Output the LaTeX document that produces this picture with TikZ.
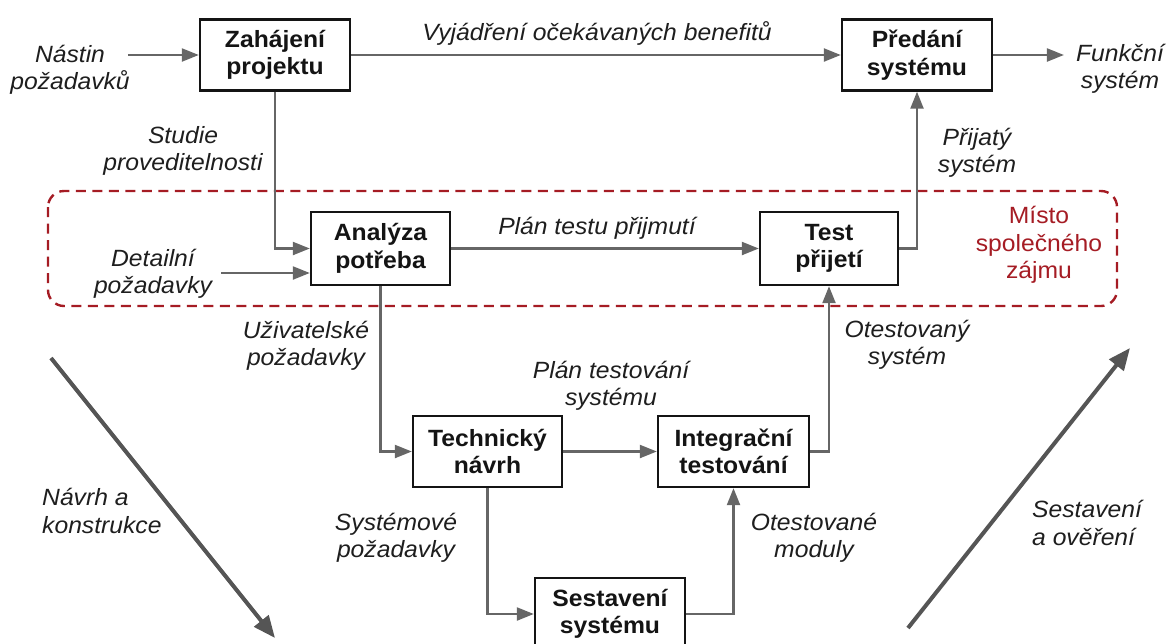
\documentclass[tikz,border=0pt]{standalone}
\usepackage{fontspec}
\setmainfont{Liberation Sans}[FakeStretch=1.05]
\usetikzlibrary{arrows.meta}
\definecolor{linegray}{RGB}{102,102,102}
\definecolor{diaggray}{RGB}{85,85,85}
\definecolor{boxblack}{RGB}{20,20,20}
\definecolor{textdark}{RGB}{30,30,30}
\definecolor{zonered}{RGB}{165,28,36}
\tikzset{
  stage/.style={draw=boxblack, line width=2.4pt, fill=white, inner sep=0pt,
    align=center, font=\fontsize{23.5}{27.5}\selectfont\bfseries, text=boxblack},
  flowlabel/.style={inner sep=0pt, align=center, text=textdark,
    font=\fontsize{23.5}{27.5}\selectfont\itshape},
  zonelabel/.style={inner sep=0pt, align=center, text=zonered,
    font=\fontsize{23.5}{27.5}\selectfont},
  conn/.style={draw=linegray, line width=2.3pt,
    -{Triangle[length=17pt,width=13pt]}},
  phasearrow/.style={draw=diaggray, line width=4pt,
    -{Triangle[length=22pt,width=18pt]}},
  zone/.style={draw=zonered, line width=2.4pt, dash pattern=on 10pt off 6.5pt,
    rounded corners=16pt}
}
\begin{document}
\begin{tikzpicture}[x=1pt,y=-1pt]
\useasboundingbox (0,0) rectangle (1169,643);
\clip (0,0) rectangle (1169,643);

% area shared by both parties
\draw[zone] (48,191) rectangle (1117,306);
\node[zonelabel] (misto) at (1039,245) {Místo\\společného\\zájmu};

% process stages
\node[stage, minimum width=150pt, minimum height=71pt] (zah) at (275,55) {Zahájení\\projektu};
\node[stage, minimum width=150pt, minimum height=71pt] (pred) at (917,55) {Předání\\systému};
\node[stage, minimum width=139pt, minimum height=73pt] (ana) at (380.5,248.5) {Analýza\\potřeba};
\node[stage, minimum width=138pt, minimum height=73pt] (test) at (829,248.5) {Test\\přijetí};
\node[stage, minimum width=149pt, minimum height=71pt] (tech) at (487.5,451.5) {Technický\\návrh};
\node[stage, minimum width=151pt, minimum height=71pt] (integ) at (733.5,451.5) {Integrační\\testování};
\node[stage, minimum width=150pt, minimum height=72pt] (sest) at (610,614) {Sestavení\\systému};

% inputs and outputs
\node[flowlabel] (nastin) at (70,70) {Nástin\\požadavků};
\node[flowlabel] (funk) at (1120,69) {Funkční\\systém};
\node[flowlabel] (det) at (153,274) {Detailní\\požadavky};

% flow labels
\node[flowlabel] (vyj) at (597,33) {Vyjádření očekávaných benefitů};
\node[flowlabel] (studie) at (183,151) {Studie\\proveditelnosti};
\node[flowlabel] (prij) at (977,153) {Přijatý\\systém};
\node[flowlabel] (plantest) at (597,228) {Plán testu přijmutí};
\node[flowlabel] (uziv) at (306,346) {Uživatelské\\požadavky};
\node[flowlabel] (otsys) at (907,345) {Otestovaný\\systém};
\node[flowlabel] (plansys) at (611,386) {Plán testování\\systému};
\node[flowlabel] (sysreq) at (396,538) {Systémové\\požadavky};
\node[flowlabel] (otmod) at (814,538) {Otestované\\moduly};
\node[flowlabel, align=left, anchor=west] (navrh) at (42,511) {Návrh a\\konstrukce};
\node[flowlabel, align=left, anchor=west] (overeni) at (1032,523) {Sestavení\\a ověření};

% connectors
\draw[conn] ([xshift=-2pt]nastin.east |- zah.west) -- (zah.west);
\draw[conn] (zah.east) -- (pred.west);
\draw[conn, shorten >=12pt] (pred.east) -- (funk.west |- pred.east);
\draw[conn] (zah.south) |- (ana.west);
\draw[conn] ([xshift=9pt,yshift=-24.5pt]det.east |- ana.west) -- ([yshift=-24.5pt]ana.west);
\draw[conn] (ana.east) -- (test.west);
\draw[conn] (test.east) -| (pred.south);
\draw[conn] (ana.south) |- (tech.west);
\draw[conn] (tech.east) -- (integ.west);
\draw[conn] (integ.east) -| (test.south);
\draw[conn] (tech.south) |- (sest.west);
\draw[conn] (sest.east) -| (integ.south);

% phase arrows
\coordinate (downstart) at (51,358);
\coordinate (downend) at (275,638);
\coordinate (upstart) at (908,628);
\coordinate (upend) at (1130,348);
\draw[phasearrow] (downstart) -- (downend);
\draw[phasearrow] (upstart) -- (upend);
\end{tikzpicture}
\end{document}
